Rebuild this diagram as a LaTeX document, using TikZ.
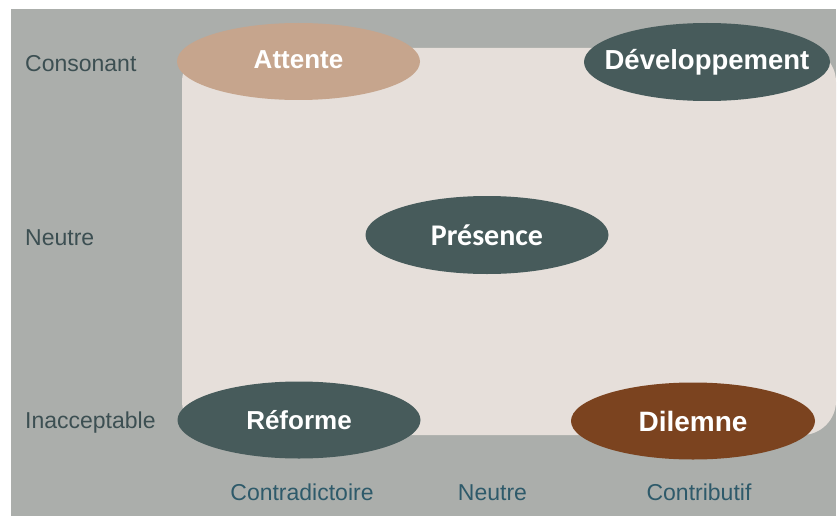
\documentclass[tikz,border=0pt]{standalone}
\usepackage{fontspec}
\setmainfont{Liberation Sans}
\newfontfamily\calfont{Carlito}
\usetikzlibrary{shapes.geometric}
\definecolor{panelgray}{HTML}{ABAEAB}
\definecolor{zonelight}{HTML}{E6DFDA}
\definecolor{pilltan}{HTML}{C6A58D}
\definecolor{pillslate}{HTML}{475B5B}
\definecolor{pillbrown}{HTML}{7B431F}
\definecolor{rowtext}{HTML}{3C4F52}
\definecolor{coltext}{HTML}{2E5A6A}
% zero-width text box so the ellipse keeps its fixed size
\newcommand{\pilltext}[2][0pt]{\makebox[0pt]{\raisebox{#1}{#2}}}
\tikzset{
  pill/.style={ellipse, inner sep=0pt, minimum width=243pt, minimum height=77pt,
    text=white, font=\fontsize{26}{30}\selectfont\bfseries},
  rowlabel/.style={anchor=base west, inner sep=0pt, text=rowtext,
    font=\fontsize{23}{27}\selectfont},
  collabel/.style={anchor=base, inner sep=0pt, text=coltext,
    font=\fontsize{23}{27}\selectfont},
}
\begin{document}
\begin{tikzpicture}[x=1pt,y=-1pt]
  \useasboundingbox (0,0) rectangle (840,516);
  % backgrounds
  \fill[white] (0,0) rectangle (840,516);
  \fill[panelgray] (11,9) rectangle (836,516);
  \fill[zonelight, rounded corners=34pt] (182,48) rectangle (836,435);

  % quadrant ellipses
  \node[pill, fill=pilltan] (attente) at (298.5,61.5)
       {\pilltext[3.5pt]{Attente}};
  \node[pill, fill=pillslate, minimum width=246pt, minimum height=78pt] (devel) at (707,62)
       {\pilltext[4pt]{\fontsize{27.5}{30}\selectfont Développement}};
  \node[pill, fill=pillslate, minimum height=78pt] (presence) at (487,235)
       {\pilltext{\calfont\fontsize{30}{32}\selectfont\bfseries Présence}};
  \node[pill, fill=pillslate] (reforme) at (299,420)
       {\pilltext[1pt]{Réforme}};
  \node[pill, fill=pillbrown, minimum width=244pt] (dilemne) at (693,421)
       {\pilltext{\fontsize{28}{30}\selectfont Dilemne}};

  % row labels
  \node[rowlabel] (consonant) at (25,72)  {Consonant};
  \node[rowlabel] (neutreRow) at (25,245) {Neutre};
  \node[rowlabel] (inaccept)  at (25,428) {Inacceptable};

  % column labels
  \node[collabel] (contra)     at (302,500) {Contradictoire};
  \node[collabel] (neutreCol)  at (492.5,500) {Neutre};
  \node[collabel] (contrib)    at (699,500) {Contributif};
\end{tikzpicture}
\end{document}
